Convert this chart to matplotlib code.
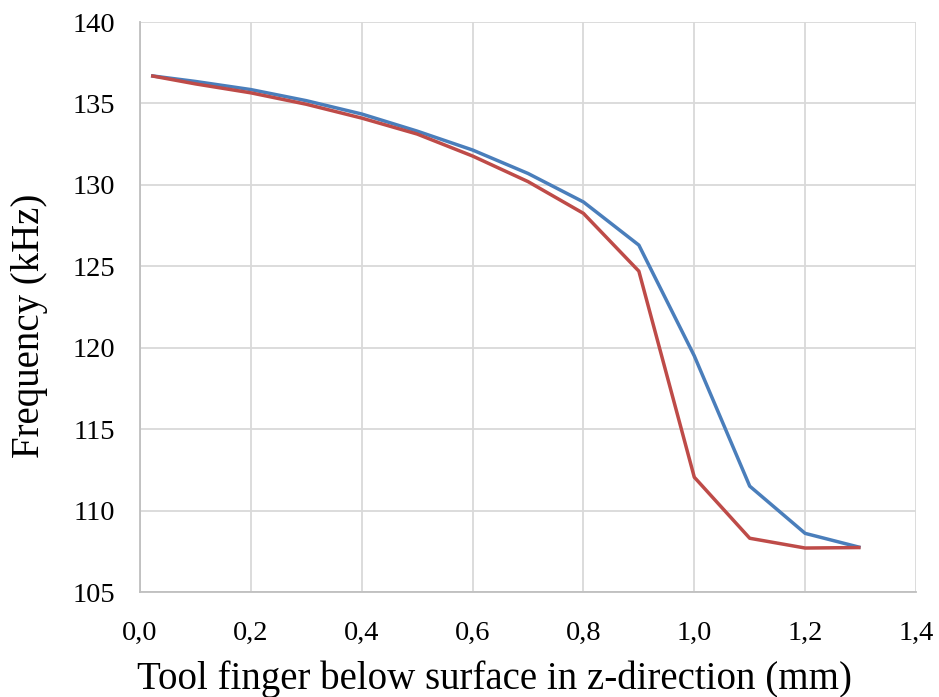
import matplotlib
matplotlib.use("Agg")
import matplotlib.pyplot as plt
from matplotlib.ticker import FuncFormatter, MultipleLocator

x = [0.02, 0.1, 0.2, 0.3, 0.4, 0.5, 0.6, 0.7, 0.8, 0.9, 1.0, 1.1, 1.2, 1.3]
blue = [136.7, 136.35, 135.85, 135.17, 134.35, 133.3, 132.14, 130.7, 128.95, 126.3, 119.5, 111.5, 108.6, 107.73]
red = [136.7, 136.2, 135.65, 134.95, 134.1, 133.12, 131.77, 130.2, 128.25, 124.7, 112.05, 108.3, 107.7, 107.73]

xlabel = "Tool finger below surface in z-direction (mm)"
ylabel = "Frequency (kHz)"

plt.rcParams['font.family'] = ['Liberation Serif', 'DejaVu Serif']

fig = plt.figure(figsize=(9.39, 6.97), dpi=100)
ax = fig.add_axes([140/939, 1-592/697, (916-140)/939, (592-22)/697])

ax.plot(x, blue, color='#4A7EBB', lw=2.5, solid_capstyle='butt', zorder=3)
ax.plot(x, red, color='#BE4B48', lw=2.5, solid_capstyle='butt', zorder=4)

ax.set_xlim(0, 1.4)
ax.set_ylim(105, 140)
ax.xaxis.set_major_locator(MultipleLocator(0.2))
ax.yaxis.set_major_locator(MultipleLocator(5))
ax.xaxis.set_major_formatter(FuncFormatter(lambda v, p: f"{v:.1f}".replace('.', ',')))
ax.yaxis.set_major_formatter(FuncFormatter(lambda v, p: f"{v:.0f}"))
ax.grid(True, color='#D9D9D9', lw=1.3)
ax.set_axisbelow(True)
for s in ['top', 'right']:
    ax.spines[s].set_visible(False)
for s in ['left', 'bottom']:
    ax.spines[s].set_color('#BFBFBF')
    ax.spines[s].set_linewidth(1.3)
    ax.spines[s].set_zorder(2)
ax.tick_params(length=0, labelsize=20.5, colors='black')
ax.tick_params(axis='x', pad=21)
ax.tick_params(axis='y', pad=18)

fig.text(495/939, 1-689/697, xlabel, fontsize=28, ha='center', va='baseline')
fig.text(30/939, 1-326/697, ylabel, fontsize=28, ha='center', va='center', rotation=90)

fig.savefig("out.png", dpi=100)
